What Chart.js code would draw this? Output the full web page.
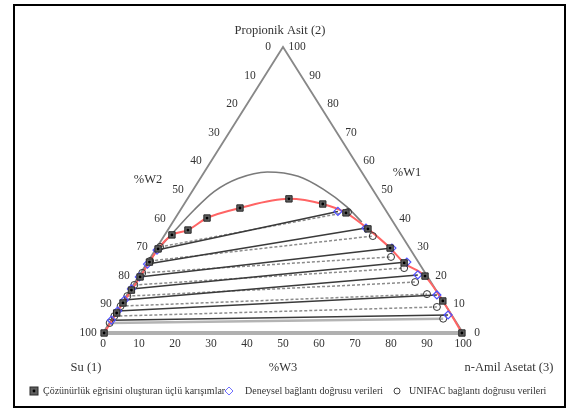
<!DOCTYPE html>
<html>
<head>
<meta charset="utf-8">
<script src="https://cdn.jsdelivr.net/npm/chart.js@4/dist/chart.umd.min.js"></script>
<style>body{margin:0;background:#fff}</style>
</head>
<body>
<canvas id="c" width="571" height="410"></canvas>
<script>
// compositions in mass %, W1 = su, W2 = propionik asit, W3 = n-amil asetat (W1 = 100 - W2 - W3)
const binodalW2 = [0, 7.0, 10.5, 15.0, 19.6, 24.8, 29.4, 34.3, 36.0, 40.2, 43.7, 46.9, 45.1, 42.0, 36.4, 29.7, 24.5, 19.9, 11.2, 0];
const binodalW3 = [0.3, 0.3, 0.3, 0.4, 0.5, 0.5, 0.6, 2.0, 5.6, 8.8, 16.2, 28.2, 38.5, 46.5, 55.4, 64.9, 71.4, 79.5, 88.8, 99.7];

const unifacCurveW2 = [22.5, 28.5, 35.5, 43.0, 49.5, 54.0, 56.3, 54.8, 50.3, 44.1, 38.8];
const unifacCurveW3 = [0.2, 0.6, 2.0, 3.8, 6.2, 10.5, 17.5, 26.8, 36.0, 45.7, 52.5];

const expLeftW2 = [29.0, 24.1, 19.6, 15.4, 11.5, 7.7, 4.5];
const expLeftW3 = [0.5, 0.3, 0.3, 0.2, 0.2, 0.2, 0.1];
const expRightW2 = [42.5, 36.7, 29.7, 24.8, 20.3, 13.3, 6.3];
const expRightW3 = [44.0, 54.7, 65.4, 72.0, 77.3, 86.1, 92.7];

const unifLeftW2 = [30.1, 25.2, 21.0, 16.8, 12.9, 9.4, 5.9, 3.5];
const unifLeftW3 = [0.8, 0.5, 0.4, 0.3, 0.3, 0.2, 0.2, 0.1];
const unifRightW2 = [42.3, 33.9, 26.6, 22.7, 17.8, 13.6, 9.1, 5.0];
const unifRightW3 = [46.9, 58.0, 66.7, 72.3, 77.8, 83.2, 88.2, 92.0];

const tickValues = [0, 10, 20, 30, 40, 50, 60, 70, 80, 90, 100];
const legendLabels = ['Çözünürlük eğrisini oluşturan üçlü karışımlar', 'Deneysel bağlantı doğrusu verileri', 'UNIFAC bağlantı doğrusu verileri'];

// ternary -> cartesian (base = W3 axis, height = W2)
const pt = (w2, w3) => ({ x: w3 + w2 / 2, y: w2 });
const pts = (a2, a3) => a2.map((v, i) => pt(v, a3[i]));

const binodal = pts(binodalW2, binodalW3);
const expEnds = pts(expLeftW2, expLeftW3).concat(pts(expRightW2, expRightW3));
const unifEnds = pts(unifLeftW2, unifLeftW3).concat(pts(unifRightW2, unifRightW3));

const datasets = [
  { label: 'dot', data: binodal, pointStyle: 'circle', pointRadius: 1.4, backgroundColor: '#000', borderWidth: 0, order: 0 },
  { label: legendLabels[0], data: binodal, pointStyle: 'rect', pointRadius: 4.5, backgroundColor: '#5e5e5e', borderColor: '#2a2a2a', borderWidth: 1, order: 1 },
  { label: legendLabels[1], data: expEnds, pointStyle: 'rectRot', pointRadius: 4, backgroundColor: 'rgba(0,0,0,0)', borderColor: '#5050ff', borderWidth: 1.2, order: 2 },
  { label: legendLabels[2], data: unifEnds, pointStyle: 'circle', pointRadius: 3.5, backgroundColor: 'rgba(0,0,0,0)', borderColor: '#333', borderWidth: 1, order: 2 },
  { label: 'binodal', data: binodal, showLine: true, pointRadius: 0, borderColor: '#ff6464', borderWidth: 2, cubicInterpolationMode: 'monotone', order: 3 },
  { label: 'unifac', data: pts(unifacCurveW2, unifacCurveW3), showLine: true, pointRadius: 0, borderColor: '#7a7a7a', borderWidth: 1.6, cubicInterpolationMode: 'monotone', order: 4 }
];
expLeftW2.forEach((v, i) => {
  datasets.push({ label: 'exp' + i, data: [pt(v, expLeftW3[i]), pt(expRightW2[i], expRightW3[i])], showLine: true, pointRadius: 0, borderColor: '#3a3a3a', borderWidth: 1.5, order: 5 });
});
unifLeftW2.forEach((v, i) => {
  const last = i === unifLeftW2.length - 1;
  datasets.push({ label: 'unif' + i, data: [pt(v, unifLeftW3[i]), pt(unifRightW2[i], unifRightW3[i])], showLine: true, pointRadius: 0,
    borderColor: last ? '#b4b4b4' : '#8c8c8c', borderWidth: last ? 2.5 : 1.5, borderDash: last ? [] : [3, 2], order: 6 });
});
datasets.forEach(d => { d.clip = false; });

const serif = '"Liberation Serif", "DejaVu Serif", serif';

const ternary = {
  id: 'ternary',
  beforeDraw(chart) {
    const ctx = chart.ctx;
    ctx.save();
    ctx.fillStyle = '#fff';
    ctx.fillRect(0, 0, chart.width, chart.height);
    ctx.strokeStyle = '#000';
    ctx.lineWidth = 2;
    ctx.strokeRect(14, 5, 551, 402);
    ctx.restore();
  },
  beforeDatasetsDraw(chart) {
    const ctx = chart.ctx, xs = chart.scales.x, ys = chart.scales.y;
    const L = [xs.getPixelForValue(0), ys.getPixelForValue(0)];
    const R = [xs.getPixelForValue(100), ys.getPixelForValue(0)];
    const T = [xs.getPixelForValue(50), ys.getPixelForValue(100)];
    ctx.save();
    ctx.strokeStyle = '#b0b0b0';
    ctx.lineWidth = 4;
    ctx.beginPath(); ctx.moveTo(L[0], L[1]); ctx.lineTo(R[0], R[1]); ctx.stroke();
    ctx.strokeStyle = '#888';
    ctx.lineWidth = 1.8;
    ctx.beginPath(); ctx.moveTo(L[0], L[1]); ctx.lineTo(T[0], T[1]); ctx.lineTo(R[0], R[1]); ctx.stroke();
    ctx.restore();
  },
  afterDraw(chart) {
    const ctx = chart.ctx, xs = chart.scales.x, ys = chart.scales.y;
    const px = (x, y) => [xs.getPixelForValue(x), ys.getPixelForValue(y)];
    ctx.save();
    ctx.fillStyle = '#333';
    ctx.font = '11.5px ' + serif;
    ctx.textAlign = 'center';
    ctx.textBaseline = 'middle';
    tickValues.forEach(v => {
      let p = px(50 - v / 2, 100 - v);
      ctx.fillText(String(v), p[0] - 15, p[1]);
      p = px(100 - v / 2, v);
      ctx.fillText(String(v), p[0] + 14, p[1]);
      p = px(v, 0);
      ctx.fillText(String(v), p[0], p[1] + 11);
    });
    ctx.font = '12.5px ' + serif;
    ctx.fillText('Propionik Asit (2)', 280, 31);
    ctx.fillText('%W2', 148, 180);
    ctx.fillText('%W1', 407, 173);
    ctx.fillText('Su (1)', 86, 368);
    ctx.fillText('%W3', 283, 368);
    ctx.fillText('n-Amil Asetat (3)', 509, 368);

    // legend
    const ly = 391;
    ctx.font = '10px ' + serif;
    ctx.textAlign = 'left';
    ctx.fillStyle = '#5e5e5e'; ctx.strokeStyle = '#2a2a2a'; ctx.lineWidth = 1;
    ctx.fillRect(30, ly - 4, 8, 8); ctx.strokeRect(30, ly - 4, 8, 8);
    ctx.fillStyle = '#000';
    ctx.beginPath(); ctx.arc(34, ly, 1.4, 0, Math.PI * 2); ctx.fill();
    ctx.fillStyle = '#333';
    ctx.fillText(legendLabels[0], 43, ly);
    ctx.strokeStyle = '#7070ff';
    ctx.beginPath(); ctx.moveTo(229, ly - 4); ctx.lineTo(233, ly); ctx.lineTo(229, ly + 4); ctx.lineTo(225, ly); ctx.closePath(); ctx.stroke();
    ctx.fillText(legendLabels[1], 245, ly);
    ctx.strokeStyle = '#444';
    ctx.beginPath(); ctx.arc(397, ly, 3, 0, Math.PI * 2); ctx.stroke();
    ctx.fillText(legendLabels[2], 409, ly);
    ctx.restore();
  }
};

new Chart(document.getElementById('c'), {
  type: 'scatter',
  data: { datasets },
  options: {
    responsive: false,
    animation: false,
    layout: { padding: { left: 103, right: 108, top: 47, bottom: 77 } },
    scales: {
      x: { display: false, min: 0, max: 100 },
      y: { display: false, min: 0, max: 100 }
    },
    plugins: { legend: { display: false }, tooltip: { enabled: false } }
  },
  plugins: [ternary]
});
</script>
</body>
</html>
